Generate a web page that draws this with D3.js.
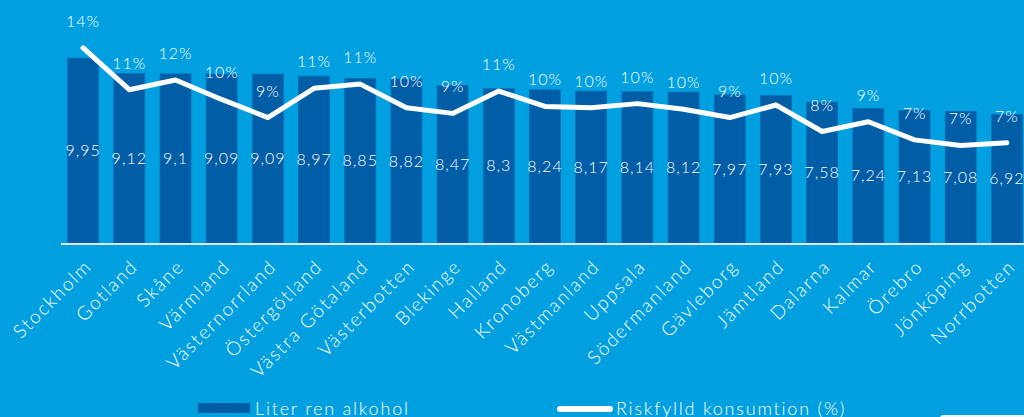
<!DOCTYPE html>
<html>
<head>
<meta charset="utf-8">
<script src="https://cdn.jsdelivr.net/npm/d3@7"></script>
<style>
  body { margin: 0; background: #009fe0; }
  svg { display: block; }
  text { font-family: Lato, "Noto Sans", sans-serif; fill: #fff; font-weight: 300; }
</style>
</head>
<body>
<svg width="1024" height="417"></svg>
<script>
// counties, litres of pure alcohol, share with risky consumption (%)
var lan = ["Stockholm", "Gotland", "Skåne", "Värmland", "Västernorrland", "Östergötland",
  "Västra Götaland", "Västerbotten", "Blekinge", "Halland", "Kronoberg", "Västmanland",
  "Uppsala", "Södermanland", "Gävleborg", "Jämtland", "Dalarna", "Kalmar", "Örebro",
  "Jönköping", "Norrbotten"];
var liter = [9.95, 9.12, 9.1, 9.09, 9.09, 8.97, 8.85, 8.82, 8.47, 8.3, 8.24, 8.17,
  8.14, 8.12, 7.97, 7.93, 7.58, 7.24, 7.13, 7.08, 6.92];
var risk = [14.0, 11.0, 11.7, 10.3, 9.0, 11.1, 11.4, 9.7, 9.3, 10.9, 9.8, 9.7,
  10.0, 9.6, 9.0, 9.9, 8.0, 8.7, 7.4, 7.0, 7.2];

var svg = d3.select("svg"),
    baseY = 243, topY = 20;

var data = lan.map(function(d, i) { return {lan: d, liter: liter[i], risk: risk[i]}; });

//scales
var x = d3.scaleBand().domain(lan).range([60, 1030]).paddingInner(0.33).paddingOuter(0.165),
    y = d3.scaleLinear().domain([0, 12]).range([baseY, topY]),
    y2 = d3.scaleLinear().domain([0, 16]).range([baseY, topY]);

var komma = function(v) { return String(v).replace(".", ","); };

//bars
svg.selectAll(".bar")
  .data(data)
  .enter().append("rect")
  .attr("class", "bar")
  .attr("x", function(d) { return x(d.lan); })
  .attr("y", function(d) { return y(d.liter); })
  .attr("width", x.bandwidth())
  .attr("height", function(d) { return baseY - y(d.liter); })
  .attr("fill", "#005da6")
  .attr("stroke", "#0a6cb4")
  .attr("stroke-width", 0.8);

//x axis
var xAxis = svg.append("g")
  .attr("transform", "translate(0," + baseY + ")")
  .call(d3.axisBottom(x).tickSize(0).tickPadding(0));
xAxis.select(".domain").remove();
xAxis.append("line")
  .attr("x1", 61).attr("x2", 1024).attr("y1", 1).attr("y2", 1)
  .attr("stroke", "#dfe6ea").attr("stroke-width", 2);
xAxis.selectAll("text")
  .attr("transform", "translate(5,20) rotate(-45)")
  .attr("text-anchor", "end")
  .attr("dy", "0.35em")
  .style("font-size", "19px")
  .style("letter-spacing", "1.8px")
  .style("font-weight", 300)
  .attr("fill", "#fff");

//bar values
svg.selectAll(".val")
  .data(data)
  .enter().append("text")
  .attr("class", "val")
  .attr("x", function(d) { return x(d.lan) + x.bandwidth() / 2; })
  .attr("y", function(d) { return (y(d.liter) + baseY) / 2; })
  .attr("dy", "0.35em")
  .attr("text-anchor", "middle")
  .style("font-size", "16px")
  .style("letter-spacing", "1px")
  .text(function(d) { return komma(d.liter); });

//line
var line = d3.line()
  .x(function(d) { return x(d.lan) + x.bandwidth() / 2; })
  .y(function(d) { return y2(d.risk); });

svg.append("path")
  .datum(data)
  .attr("d", line)
  .attr("fill", "none")
  .attr("stroke", "#fff")
  .attr("stroke-width", 5)
  .attr("stroke-linecap", "round")
  .attr("stroke-linejoin", "round");

svg.selectAll(".pct")
  .data(data)
  .enter().append("text")
  .attr("class", "pct")
  .attr("x", function(d) { return x(d.lan) + x.bandwidth() / 2; })
  .attr("y", function(d) { return y2(d.risk) - 21; })
  .attr("text-anchor", "middle")
  .style("font-size", "16px")
  .style("letter-spacing", "1px")
  .text(function(d) { return Math.round(d.risk) + "%"; });

//legend
svg.append("rect").attr("x", 198).attr("y", 403).attr("width", 52).attr("height", 10).attr("fill", "#005da6");
svg.append("text").attr("x", 255).attr("y", 415).style("font-size", "18px").style("letter-spacing", "1.8px").text("Liter ren alkohol");
svg.append("line").attr("x1", 560).attr("x2", 610).attr("y1", 409).attr("y2", 409)
  .attr("stroke", "#fff").attr("stroke-width", 6).attr("stroke-linecap", "round");
svg.append("text").attr("x", 616).attr("y", 415).style("font-size", "18px").style("letter-spacing", "1.8px").text("Riskfylld konsumtion (%)");
svg.append("rect").attr("x", 940).attr("y", 415).attr("width", 90).attr("height", 6).attr("rx", 3).attr("fill", "#eef4f8");
</script>
</body>
</html>
